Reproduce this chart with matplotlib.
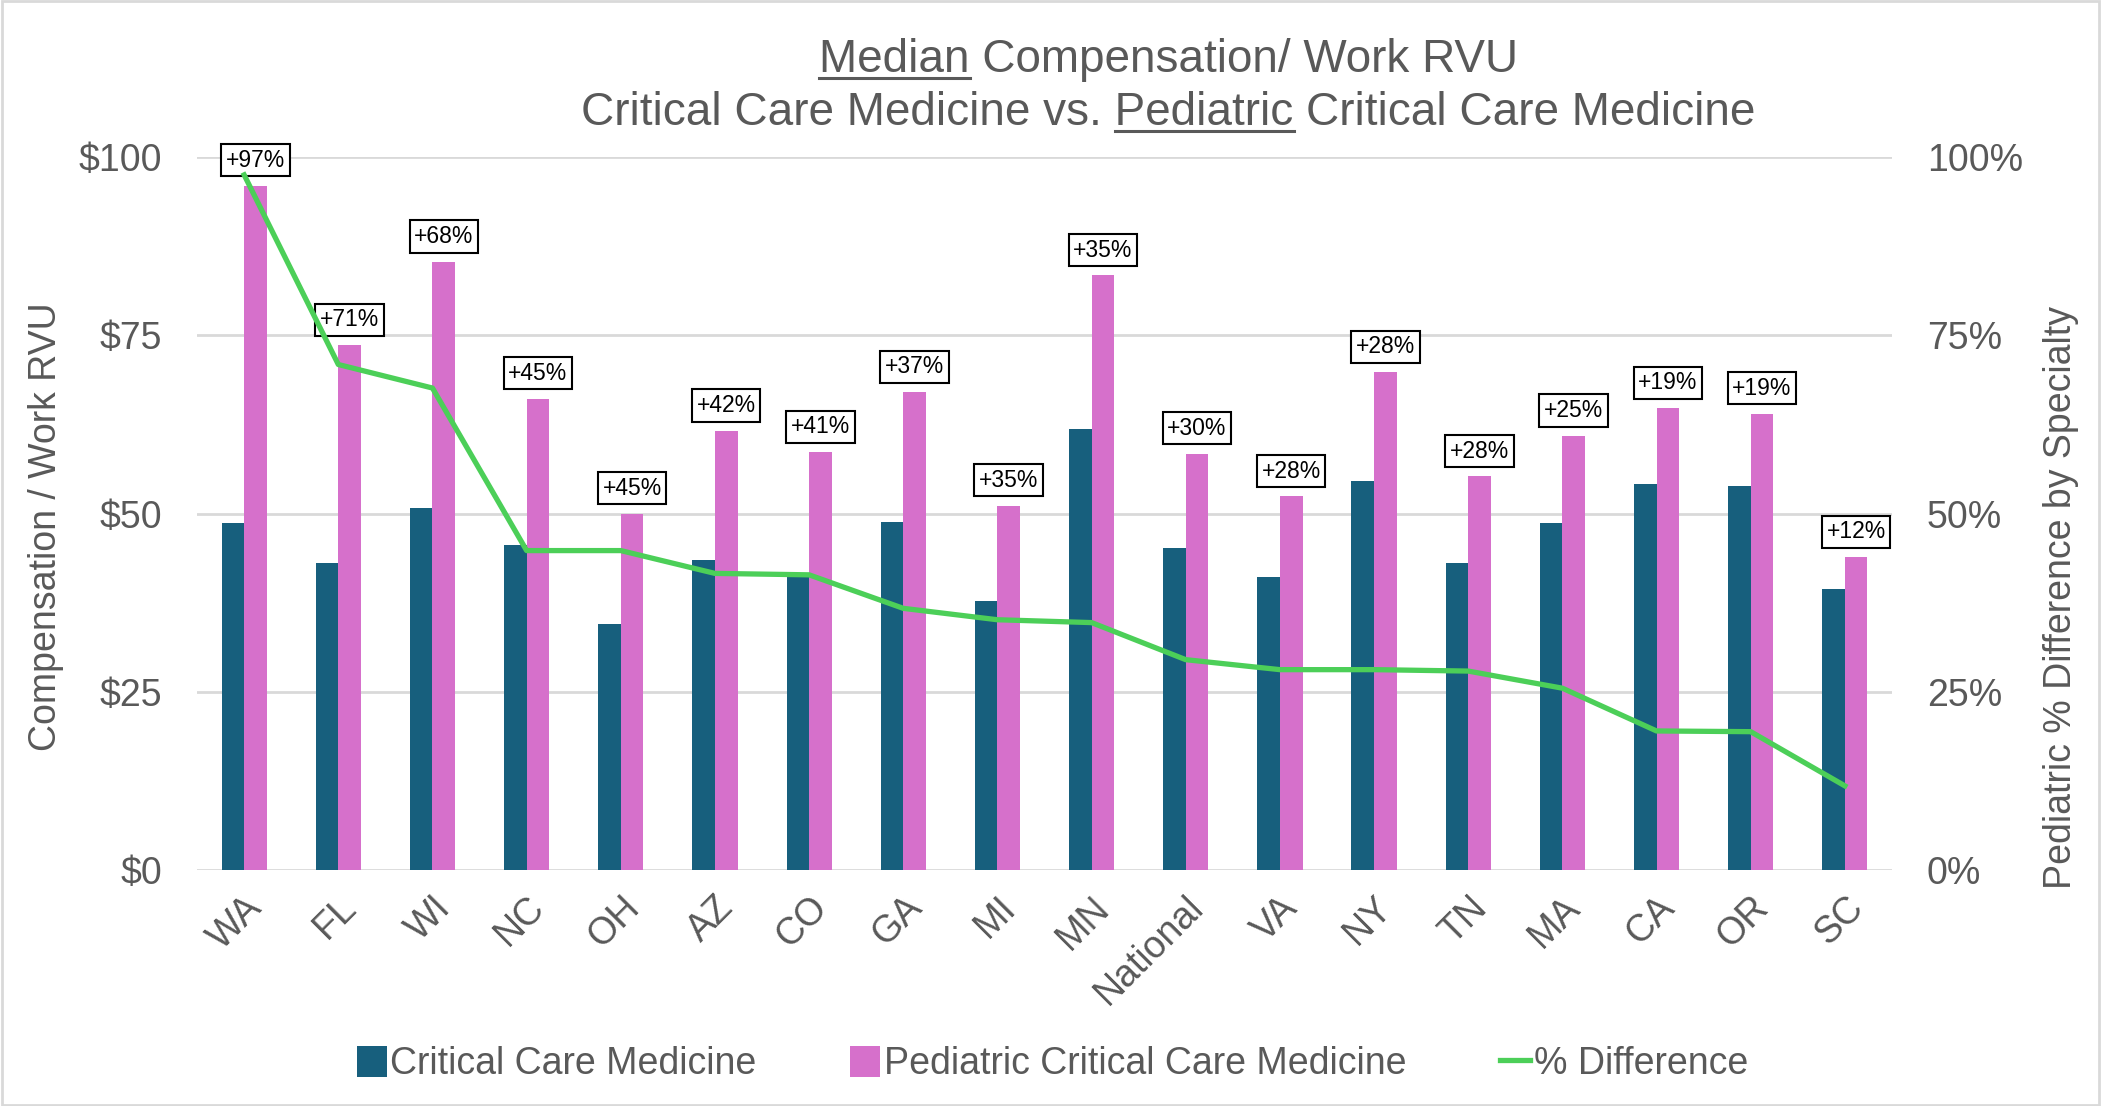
import numpy as np
import matplotlib
matplotlib.use("Agg")
import matplotlib.pyplot as plt
from matplotlib.patches import Rectangle

# data
states = ["WA", "FL", "WI", "NC", "OH", "AZ", "CO", "GA", "MI", "MN",
          "National", "VA", "NY", "TN", "MA", "CA", "OR", "SC"]
ccm = [48.7, 43.0, 50.8, 45.6, 34.5, 43.5, 41.1, 48.8, 37.7, 61.9,
       45.1, 41.1, 54.5, 43.1, 48.6, 54.2, 53.9, 39.4]
pccm = [96.0, 73.6, 85.3, 66.1, 50.0, 61.6, 58.6, 67.0, 51.1, 83.4,
        58.4, 52.4, 69.8, 55.2, 60.9, 64.8, 64.0, 43.9]
pct_diff = [97.5, 70.9, 67.6, 44.8, 44.8, 41.6, 41.4, 36.7, 35.1, 34.7,
            29.5, 28.1, 28.1, 27.9, 25.5, 19.5, 19.4, 11.8]
diff_labels = ["+97%", "+71%", "+68%", "+45%", "+45%", "+42%", "+41%", "+37%", "+35%",
               "+35%", "+30%", "+28%", "+28%", "+28%", "+25%", "+19%", "+19%", "+12%"]
left_ticks = [0, 25, 50, 75, 100]
left_ticklabels = ["$0", "$25", "$50", "$75", "$100"]
right_ticklabels = ["0%", "25%", "50%", "75%", "100%"]

plt.rcParams['font.family'] = ['Liberation Sans', 'DejaVu Sans']
gray = "#595959"
c_ccm = "#175F7D"
c_pccm = "#D670CB"
c_line = "#4CCF58"

fig = plt.figure(figsize=(21.01, 11.06), dpi=100)
ax = fig.add_axes([0.0938, 0.2134, 0.8067, 0.6446])
ax2 = ax.twinx()

x = np.arange(len(states))
w = 0.24
ax.bar(x - w / 2, ccm, w, color=c_ccm, label="Critical Care Medicine", zorder=2)
ax.bar(x + w / 2, pccm, w, color=c_pccm, label="Pediatric Critical Care Medicine", zorder=2)

for i in range(len(states)):
    ax.annotate(diff_labels[i], xy=(x[i] + w / 2, pccm[i]), xytext=(0, 10),
                textcoords="offset points", ha="center", va="bottom",
                fontsize=16.5, color="black", zorder=5,
                bbox=dict(boxstyle="square,pad=0.2", fc="white", ec="black", lw=1.5))

ax2.plot(x, pct_diff, color=c_line, lw=3.8, label="% Difference", zorder=3)

ax.set_xlim(-0.5, len(states) - 0.5)
ax.set_ylim(0, 100)
ax2.set_ylim(0, 100)
ax.set_yticks(left_ticks)
ax.set_yticklabels(left_ticklabels)
ax2.set_yticks(left_ticks)
ax2.set_yticklabels(right_ticklabels)
ax.set_xticks(x)
ax.set_xticklabels(states, rotation=45, ha="right", rotation_mode="anchor")

ax.grid(axis="y", color="#D9D9D9", lw=2, zorder=0)
ax.set_axisbelow(True)
for a in (ax, ax2):
    for s in a.spines.values():
        s.set_visible(False)
    a.tick_params(length=0, labelsize=27, labelcolor=gray)
ax.tick_params(axis="y", pad=25)
ax2.tick_params(axis="y", pad=25)
ax.tick_params(axis="x", pad=14)

ax.set_ylabel("Compensation / Work RVU", fontsize=27, color=gray)
ax.yaxis.label.set_va("center")
ax.yaxis.set_label_coords(-0.0893, 0.481)
ax2.set_ylabel("Pediatric % Difference by Specialty", fontsize=27, color=gray)
ax2.yaxis.label.set_va("center")
ax2.yaxis.set_label_coords(1.0997, 0.3815)

# title, with underlined words
title_x = 0.5562
line1 = "Median Compensation/ Work RVU"
line2 = "Critical Care Medicine vs. Pediatric Critical Care Medicine"
t1 = fig.text(title_x, 1 - 72 / 1106, line1, ha="center", va="baseline", fontsize=33, color=gray)
t2 = fig.text(title_x, 1 - 125 / 1106, line2, ha="center", va="baseline", fontsize=33, color=gray)
fig.canvas.draw()
r = fig.canvas.get_renderer()


def text_width(s):
    tmp = fig.text(0, 0, s, fontsize=33)
    wdt = tmp.get_window_extent(r).width
    tmp.remove()
    return wdt


bb1 = t1.get_window_extent(r)
u1_start = bb1.x0
u1_end = bb1.x0 + text_width("Median")
bb2 = t2.get_window_extent(r)
u2_end = bb2.x0 + text_width("Critical Care Medicine vs. Pediatric")
u2_start = u2_end - text_width("Pediatric")
W, H = fig.bbox.width, fig.bbox.height
for (xs, xe, yb) in [(u1_start, u1_end, 72), (u2_start, u2_end, 125)]:
    yy = 1 - (yb + 6) / 1106
    fig.add_artist(plt.Line2D([xs / W, xe / W], [yy, yy], color=gray, lw=2.2))

# legend
h1, l1 = ax.get_legend_handles_labels()
h2, l2 = ax2.get_legend_handles_labels()
fig.legend(h1 + h2, l1 + l2, loc="center", bbox_to_anchor=(0.501, 0.038), ncol=3,
           frameon=False, fontsize=27, labelcolor=gray, handlelength=0.8, handleheight=0.9,
           handletextpad=0.1, columnspacing=2.5)

# chart border
fig.add_artist(Rectangle((0.001, 0.001), 0.998, 0.998, transform=fig.transFigure,
                         fill=False, ec="#D9D9D9", lw=2))

fig.savefig("out.png", dpi=100)
